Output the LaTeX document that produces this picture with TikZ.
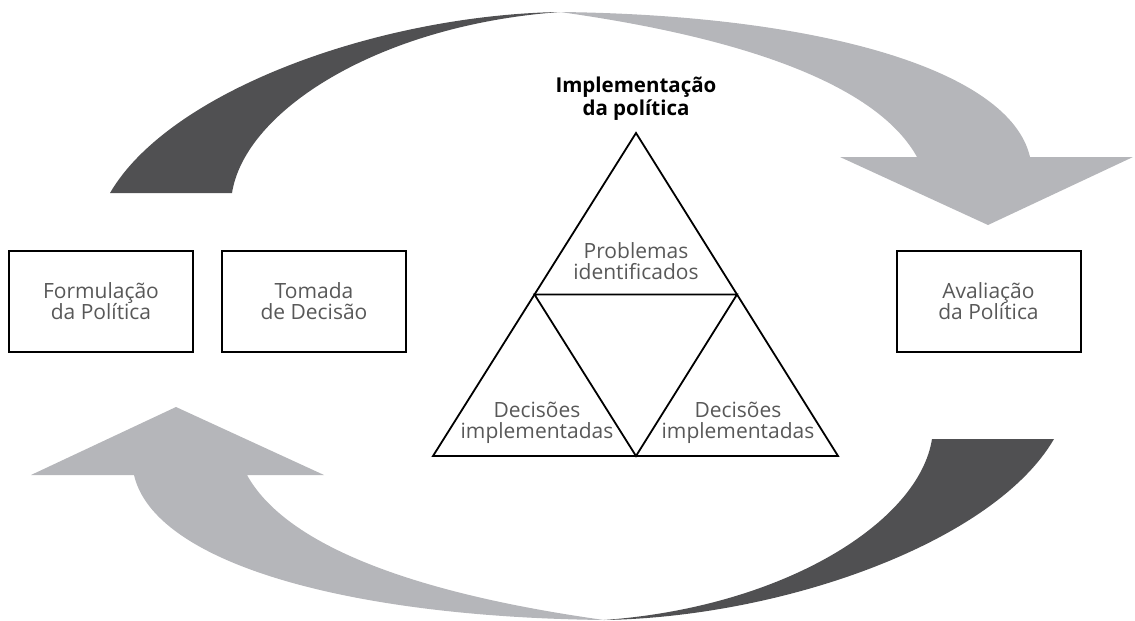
\documentclass[tikz,border=0pt]{standalone}
\usepackage{fontspec}
\setmainfont{Open Sans}
\usetikzlibrary{positioning}
\definecolor{darkband}{RGB}{80,80,82}
\definecolor{lightband}{RGB}{181,182,186}
\definecolor{labelgray}{RGB}{88,88,88}
\tikzset{
	stage/.style = {shape=rectangle, draw, line width=2pt, align=center,
		minimum width=184pt, minimum height=101pt, inner sep=0pt,
		text=labelgray, font=\fontsize{21}{21.5}\selectfont},
	part/.style  = {align=center, inner sep=0pt, text=labelgray,
		font=\fontsize{21}{21.5}\selectfont},
	title/.style = {align=center, inner sep=0pt,
		font=\bfseries\fontsize{20.5}{23}\selectfont},
	tri/.style   = {line width=1.8pt, line join=miter},
}

\begin{document}
\begin{tikzpicture}[x=1pt, y=-1pt]
\useasboundingbox (0,0) rectangle (1135,621);

% cycle: half ring, then the same turned round the centre
\foreach \turn in {0,180}{
	\begin{scope}[rotate around={\turn:(582,316)}]
		\fill[darkband] (110,193) .. controls (170,90) and (380,15) .. (560,12)
			.. controls (380,25) and (245,110) .. (232,193) -- cycle;
		\fill[lightband] (560,12) .. controls (820,15) and (1010,70) .. (1030,157)
			-- (1133,157) -- (988,225) -- (840,157) -- (917,157)
			.. controls (880,90) and (760,40) .. (560,12) -- cycle;
	\end{scope}
}

% stages
\node [stage] (form) at (101,301) {Formulação\\da Política};
\node [stage, right=27pt of form] (decide) {Tomada\\de Decisão};
\node [stage] (eval) at (988.5,301) {Avaliação\\da Política};

% implementation triangle
\coordinate (apex) at (636,133);
\coordinate (bl) at (433,456);
\coordinate (br) at (838,456);
\coordinate (ml) at (534.5,294.5);
\coordinate (mr) at (737,294.5);
\coordinate (bm) at (636,456);
\draw [tri] (apex) -- (br) -- (bl) -- cycle;
\draw [tri] (ml) -- (mr) -- (bm) -- cycle;

\node [title] (impl) at (636,99) {Implementação\\da política};
\node [part] (prob) at (636,261) {Problemas\\identificados};
\node [part] (decl) at (537,423) {Decisões\\implementadas};
\node [part] (decr) at (738,423) {Decisões\\implementadas};
\end{tikzpicture}
\end{document}
